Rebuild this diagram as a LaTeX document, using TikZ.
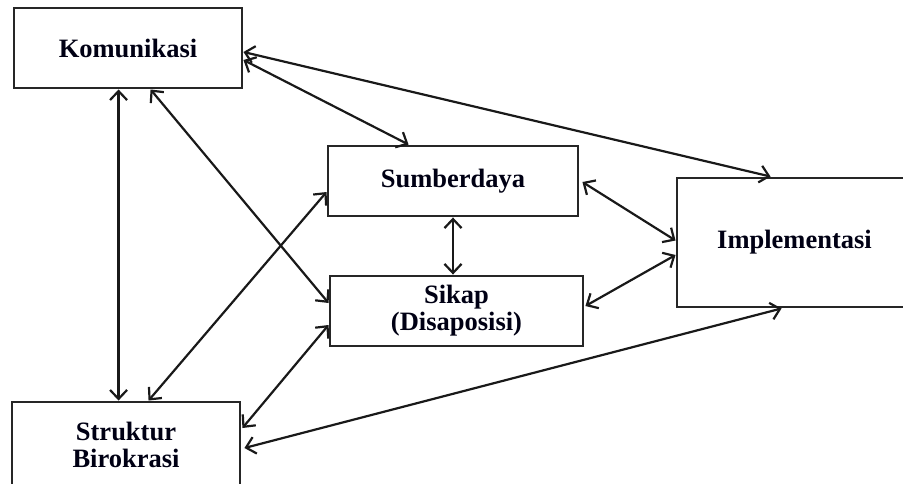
\documentclass[tikz,border=0pt]{standalone}
\usepackage{fontspec}
\setmainfont{Liberation Serif}
\usetikzlibrary{arrows.meta}
\begin{document}
\begin{tikzpicture}[x=1pt,y=-1pt,
  box/.style={draw=black!85,line width=2.9pt,fill=white,align=center,inner sep=0pt,
    font=\fontsize{26.5}{27}\selectfont\bfseries,text=black!92!blue},
  link/.style={line width=2.2pt,draw=black!90,{Straight Barb[length=9pt,width=17pt,line width=2.2pt]}-{Straight Barb[length=9pt,width=17pt,line width=2.2pt]}}]
\useasboundingbox (0,0) rectangle (903,483);
\node[box,minimum width=228pt,minimum height=80pt] (kom) at (128,48) {Komunikasi};
\node[box,minimum width=250pt,minimum height=70pt] (sum) at (453,181) {Sumberdaya};
\node[box,minimum width=253pt,minimum height=70pt] (sik) at (456.5,311) {Sikap\\(Disaposisi)};
\node[box,minimum width=235pt,minimum height=129pt] (imp) at (794.5,242.5) {Implementasi};
\node[box,minimum width=228pt,minimum height=86pt] (str) at (126,445) {Struktur\\Birokrasi};
\draw[link] ([xshift=106pt]kom.south west) -- ([xshift=108pt]str.north west);
\draw[link] ([xshift=138pt]kom.south west) -- ([yshift=8pt]sik.west);
\draw[link] ([yshift=-12pt]kom.east) -- ([xshift=82pt]sum.north west);
\draw[link] ([yshift=-4pt]kom.east) -- ([xshift=95pt]imp.north west);
\draw[link] ([yshift=-11pt]sum.west) -- ([xshift=138pt]str.north west);
\draw[link] (sum.south) -- (sum.south |- sik.north);
\draw[link] ([xshift=3pt,yshift=-1pt]sum.east) -- ([yshift=2pt]imp.west);
\draw[link] ([xshift=1pt,yshift=5pt]sik.east) -- ([yshift=-12.5pt]imp.west);
\draw[link] ([yshift=-14pt]sik.west) -- ([xshift=1pt,yshift=17pt]str.east);
\draw[link] ([xshift=3pt,yshift=-3pt]str.east) -- ([xshift=106pt]imp.south west);
\end{tikzpicture}
\end{document}
